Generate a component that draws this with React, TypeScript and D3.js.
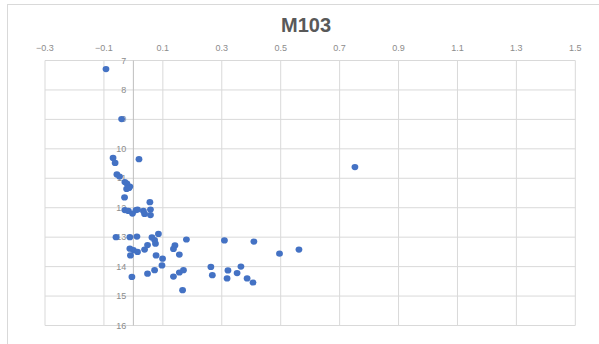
import React from 'react';
import * as d3 from 'd3';

// M103 readings, taken off the chart
const xValues = [
  -0.093, -0.040, -0.069, -0.062, 0.019, 0.752, -0.056, -0.047, -0.029, -0.022,
  -0.012, -0.023, -0.015, -0.030, 0.056, -0.029, -0.017, -0.003, 0.009, 0.014,
  0.034, 0.038, 0.058, 0.058, -0.059, -0.012, 0.012, 0.063, 0.072, 0.075,
  0.085, -0.012, 0.000, 0.014, -0.010, 0.038, 0.048, 0.077, 0.099, 0.097,
  0.072, 0.048, -0.005, 0.141, 0.136, 0.156, 0.180, 0.136, 0.156, 0.170,
  0.167, 0.309, 0.409, 0.496, 0.562, 0.263, 0.268, 0.321, 0.318, 0.352,
  0.365, 0.386, 0.406,
];
const yValues = [
  7.29, 8.99, 10.31, 10.48, 10.35, 10.62, 10.87, 10.94, 11.13, 11.18,
  11.28, 11.36, 11.33, 11.65, 11.81, 12.08, 12.11, 12.20, 12.08, 12.06,
  12.11, 12.21, 12.06, 12.25, 13.00, 13.00, 12.98, 13.01, 13.10, 13.22,
  12.89, 13.39, 13.44, 13.50, 13.62, 13.42, 13.27, 13.62, 13.73, 13.96,
  14.12, 14.24, 14.35, 13.28, 13.40, 13.59, 13.08, 14.34, 14.20, 14.12,
  14.80, 13.11, 13.15, 13.56, 13.42, 14.01, 14.29, 14.13, 14.40, 14.22,
  14.00, 14.40, 14.54,
];
const xTicks = [-0.3, -0.1, 0.1, 0.3, 0.5, 0.7, 0.9, 1.1, 1.3, 1.5];
const yTicks = [7, 8, 9, 10, 11, 12, 13, 14, 15, 16];

const W = 599;
const H = 344;
const font = "'Liberation Sans', Arial, sans-serif";

export default function App() {
  const x = d3.scaleLinear().domain([-0.3, 1.5]).range([45, 575.3]);
  const y = d3.scaleLinear().domain([7, 16]).range([60.5, 325.5]);
  const points = xValues.map((v, i) => ({ x: v, y: yValues[i] }));

  return (
    <svg width={W} height={H} style={{ position: 'absolute', left: 0, top: 0, background: '#fff' }}>
      <rect x={7.5} y={4.5} width={W} height={H} fill="#fff" stroke="#d9d9d9" />
      <text x={306} y={32} textAnchor="middle" fontFamily={font} fontWeight="bold"
        fontSize={20} fill="#595959">M103</text>

      {yTicks.map(t => (
        <line key={'h' + t} x1={x(-0.3)} x2={x(1.5)} y1={y(t)} y2={y(t)} stroke="#d9d9d9" />
      ))}
      {xTicks.map(t => (
        <line key={'v' + t} x1={x(t)} x2={x(t)} y1={y(7)} y2={y(16)} stroke="#d9d9d9" />
      ))}
      <line x1={x(0)} x2={x(0)} y1={y(7)} y2={y(16)} stroke="#bfbfbf" />

      {xTicks.map(t => (
        <text key={'xl' + t} x={x(t)} y={51} textAnchor="middle" fontFamily={font}
          fontSize={9} fill="#8c8c8c">{d3.format('.1f')(t)}</text>
      ))}
      {yTicks.map(t => (
        <text key={'yl' + t} x={x(0) - 7} y={y(t) + 3} textAnchor="end" fontFamily={font}
          fontSize={9} fill="#8c8c8c">{t}</text>
      ))}

      {points.map((p, i) => (
        <ellipse key={i} cx={x(p.x)} cy={y(p.y)} rx={3.4} ry={3.1} fill="#4472c4" />
      ))}
    </svg>
  );
}
